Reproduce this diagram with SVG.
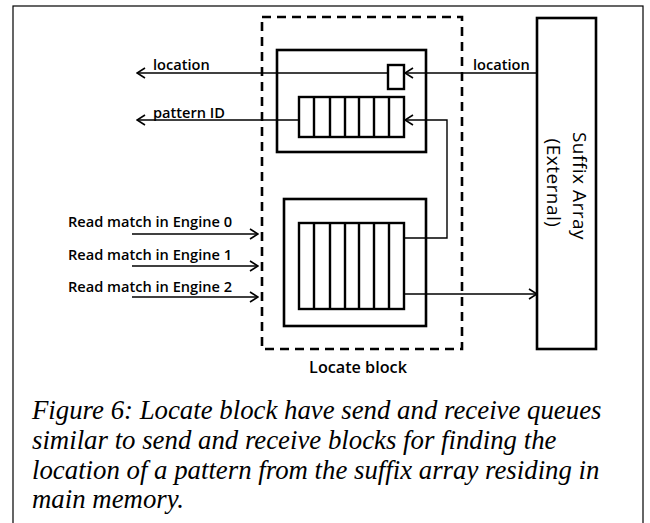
<svg xmlns="http://www.w3.org/2000/svg" width="650" height="523" viewBox="0 0 650 523">
<defs>
<marker id="arr" markerWidth="10" markerHeight="12" refX="9" refY="6" orient="auto" markerUnits="userSpaceOnUse">
<path d="M1,1 L9,6 L1,11" fill="none" stroke="#000" stroke-width="1.6"/>
</marker>
</defs>
<style>
.box{fill:#fff;stroke:#000;stroke-width:2.6}
.cell{fill:none;stroke:#000;stroke-width:2.4}
.dash{fill:none;stroke:#000;stroke-width:2.6;stroke-dasharray:9,6}
.wire{fill:none;stroke:#000;stroke-width:1.4}
.lbl{font-family:"Open Sans","Liberation Sans",sans-serif;font-weight:600;font-size:14.6px;fill:#000}
.vert{font-family:"Open Sans","Liberation Sans",sans-serif;font-weight:400;font-size:19px;letter-spacing:0.5px;fill:#000}
.cap{font-family:"Liberation Serif","Times New Roman",serif;font-style:italic;font-size:26.8px;fill:#000}
</style>
<rect x="0" y="0" width="650" height="523" fill="#fff"/>
<rect id="frame" x="13" y="6" width="630" height="530" fill="none" stroke="#000" stroke-width="1.2"/>

<g id="locate-block">
<rect class="dash" x="262" y="17" width="200" height="332"/>
<text class="lbl" x="358" y="373" text-anchor="middle" style="font-size:16.2px">Locate block</text>
</g>

<g id="upper-box">
<rect class="box" x="277" y="50" width="149" height="102"/>
</g>
<g id="location-reg">
<rect class="cell" x="388" y="65" width="16" height="24"/>
</g>
<g id="upper-queue">
<rect class="cell" x="299" y="97" width="105" height="40"/>
<path class="cell" d="M314,97V137M330,97V137M345,97V137M359,97V137M374,97V137M389,97V137"/>
</g>

<g id="lower-box">
<rect class="box" x="284" y="199" width="142" height="127"/>
</g>
<g id="lower-queue">
<rect class="cell" x="299" y="223" width="105" height="86"/>
<path class="cell" d="M314,223V309M330,223V309M345,223V309M359,223V309M374,223V309M389,223V309"/>
</g>

<g id="suffix-array">
<rect class="box" x="537" y="18" width="59" height="331"/>
<text class="vert" transform="translate(573,186) rotate(90)" text-anchor="middle">Suffix Array</text>
<text class="vert" transform="translate(547,183) rotate(90)" text-anchor="middle">(External)</text>
</g>

<g id="connectors">
<line class="wire" x1="537" y1="73" x2="405" y2="73" marker-end="url(#arr)"/>
<line class="wire" x1="388" y1="73" x2="137" y2="73" marker-end="url(#arr)"/>
<line class="wire" x1="299" y1="120" x2="137" y2="120" marker-end="url(#arr)"/>
<polyline class="wire" points="404,238 447,238 447,120 405,120" marker-end="url(#arr)"/>
<line class="wire" x1="404" y1="294" x2="537" y2="294" marker-end="url(#arr)"/>
<line class="wire" x1="132" y1="234" x2="258" y2="234" marker-end="url(#arr)"/>
<line class="wire" x1="132" y1="266" x2="258" y2="266" marker-end="url(#arr)"/>
<line class="wire" x1="132" y1="297" x2="258" y2="297" marker-end="url(#arr)"/>
</g>

<g id="labels">
<text class="lbl" x="153" y="70">location</text>
<text class="lbl" x="153" y="118">pattern ID</text>
<text class="lbl" x="473" y="70">location</text>
<text class="lbl" x="68" y="227">Read match in Engine 0</text>
<text class="lbl" x="68" y="260">Read match in Engine 1</text>
<text class="lbl" x="68" y="292">Read match in Engine 2</text>
</g>

<g id="caption">
<text class="cap" x="32" y="419">Figure 6: Locate block have send and receive queues</text>
<text class="cap" x="32" y="449">similar to send and receive blocks for finding the</text>
<text class="cap" x="32" y="479">location of a pattern from the suffix array residing in</text>
<text class="cap" x="32" y="508">main memory.</text>
</g>
</svg>
